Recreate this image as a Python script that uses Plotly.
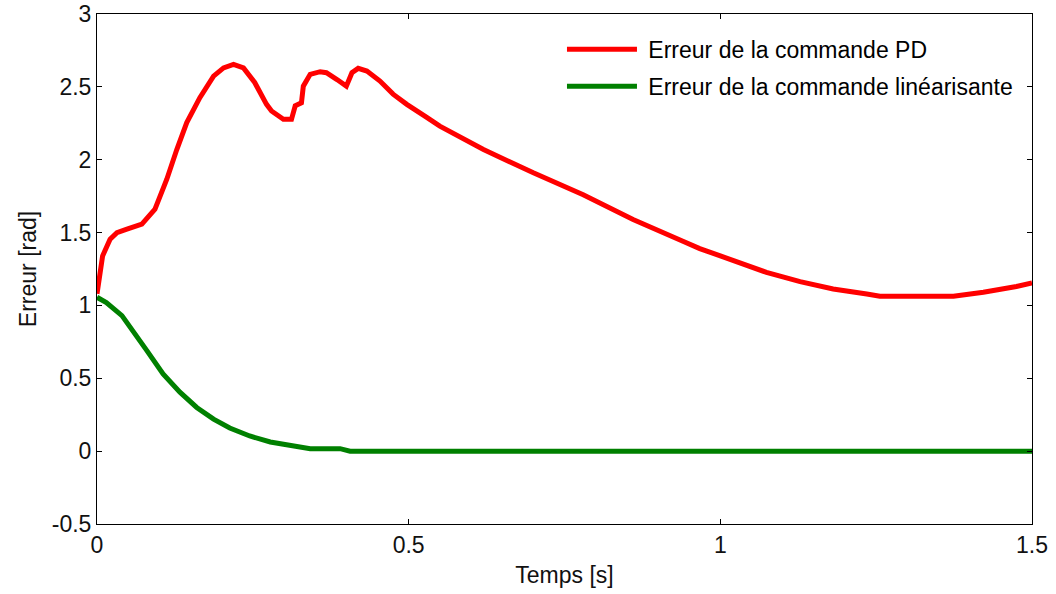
import plotly.graph_objects as go

t_pd = [0, 0.005, 0.009, 0.021, 0.032, 0.048, 0.072, 0.093, 0.112, 0.128, 0.144, 0.165,
        0.187, 0.203, 0.219, 0.235, 0.253, 0.272, 0.28, 0.299, 0.312, 0.318, 0.328, 0.331,
        0.342, 0.358, 0.368, 0.385, 0.40, 0.409, 0.419, 0.433, 0.454, 0.475, 0.497, 0.529,
        0.55, 0.62, 0.70, 0.78, 0.86, 0.94, 0.967, 1.0, 1.021, 1.074, 1.128, 1.181, 1.235,
        1.256, 1.374, 1.422, 1.475, 1.5]
e_pd = [1.08, 1.23, 1.34, 1.455, 1.50, 1.524, 1.558, 1.66, 1.866, 2.07, 2.255, 2.426,
        2.574, 2.63, 2.654, 2.63, 2.53, 2.38, 2.334, 2.277, 2.277, 2.37, 2.39, 2.505,
        2.586, 2.604, 2.597, 2.55, 2.505, 2.597, 2.627, 2.608, 2.54, 2.45, 2.38, 2.29,
        2.23, 2.07, 1.91, 1.76, 1.59, 1.44, 1.39, 1.34, 1.307, 1.227, 1.163, 1.113, 1.079,
        1.063, 1.063, 1.09, 1.13, 1.154]

t_lin = [0, 0.015, 0.04, 0.058, 0.08, 0.106, 0.133, 0.16, 0.187, 0.213, 0.245, 0.278,
         0.31, 0.342, 0.39, 0.406, 1.5]
e_lin = [1.056, 1.02, 0.93, 0.816, 0.69, 0.53, 0.405, 0.30, 0.22, 0.159, 0.104, 0.063,
         0.04, 0.017, 0.017, 0.0, 0.0]

x_ticks = [0, 0.5, 1, 1.5]
x_ticktext = ["0", "0.5", "1", "1.5"]
y_ticks = [-0.5, 0, 0.5, 1, 1.5, 2, 2.5, 3]
y_ticktext = ["-0.5", "0", "0.5", "1", "1.5", "2", "2.5", "3"]

font = "Liberation Sans, Arial, sans-serif"
fs = 23

fig = go.Figure()
fig.add_trace(go.Scatter(x=t_pd, y=e_pd, mode="lines", name="\u00a0Erreur de la commande PD",
                         line=dict(color="#ff0000", width=5), legend="legend"))
fig.add_trace(go.Scatter(x=t_lin, y=e_lin, mode="lines",
                         name="\u00a0Erreur de la commande linéarisante",
                         line=dict(color="#008000", width=5), legend="legend2"))

axis_common = dict(showline=True, linecolor="black", linewidth=1, mirror="ticks",
                   ticks="inside", ticklen=5, tickcolor="black", showgrid=False,
                   zeroline=False, automargin=False,
                   tickfont=dict(family=font, size=fs, color="#111"))

fig.update_xaxes(range=[0, 1.5], tickmode="array", tickvals=x_ticks, ticktext=x_ticktext,
                 title=dict(text="Temps [s]", font=dict(family=font, size=fs, color="#111"), standoff=10),
                 **axis_common)
fig.update_yaxes(range=[-0.5, 3], tickmode="array", tickvals=y_ticks, ticktext=y_ticktext,
                 title=dict(text="Erreur [rad]", font=dict(family=font, size=fs, color="#111"), standoff=8),
                 **axis_common)

leg_common = dict(xanchor="left", yanchor="middle", bgcolor="rgba(0,0,0,0)", itemwidth=70,
                  font=dict(family=font, size=fs, color="black"), borderwidth=0)
fig.update_layout(
    width=1056, height=594,
    margin=dict(l=97, r=24, t=14, b=70),
    plot_bgcolor="white", paper_bgcolor="white",
    font=dict(family=font, size=fs, color="#111"),
    showlegend=True,
    legend=dict(x=0.4973, y=0.931, **leg_common),
    legend2=dict(x=0.4973, y=0.858, **leg_common),
)

fig.write_html("out.html")
